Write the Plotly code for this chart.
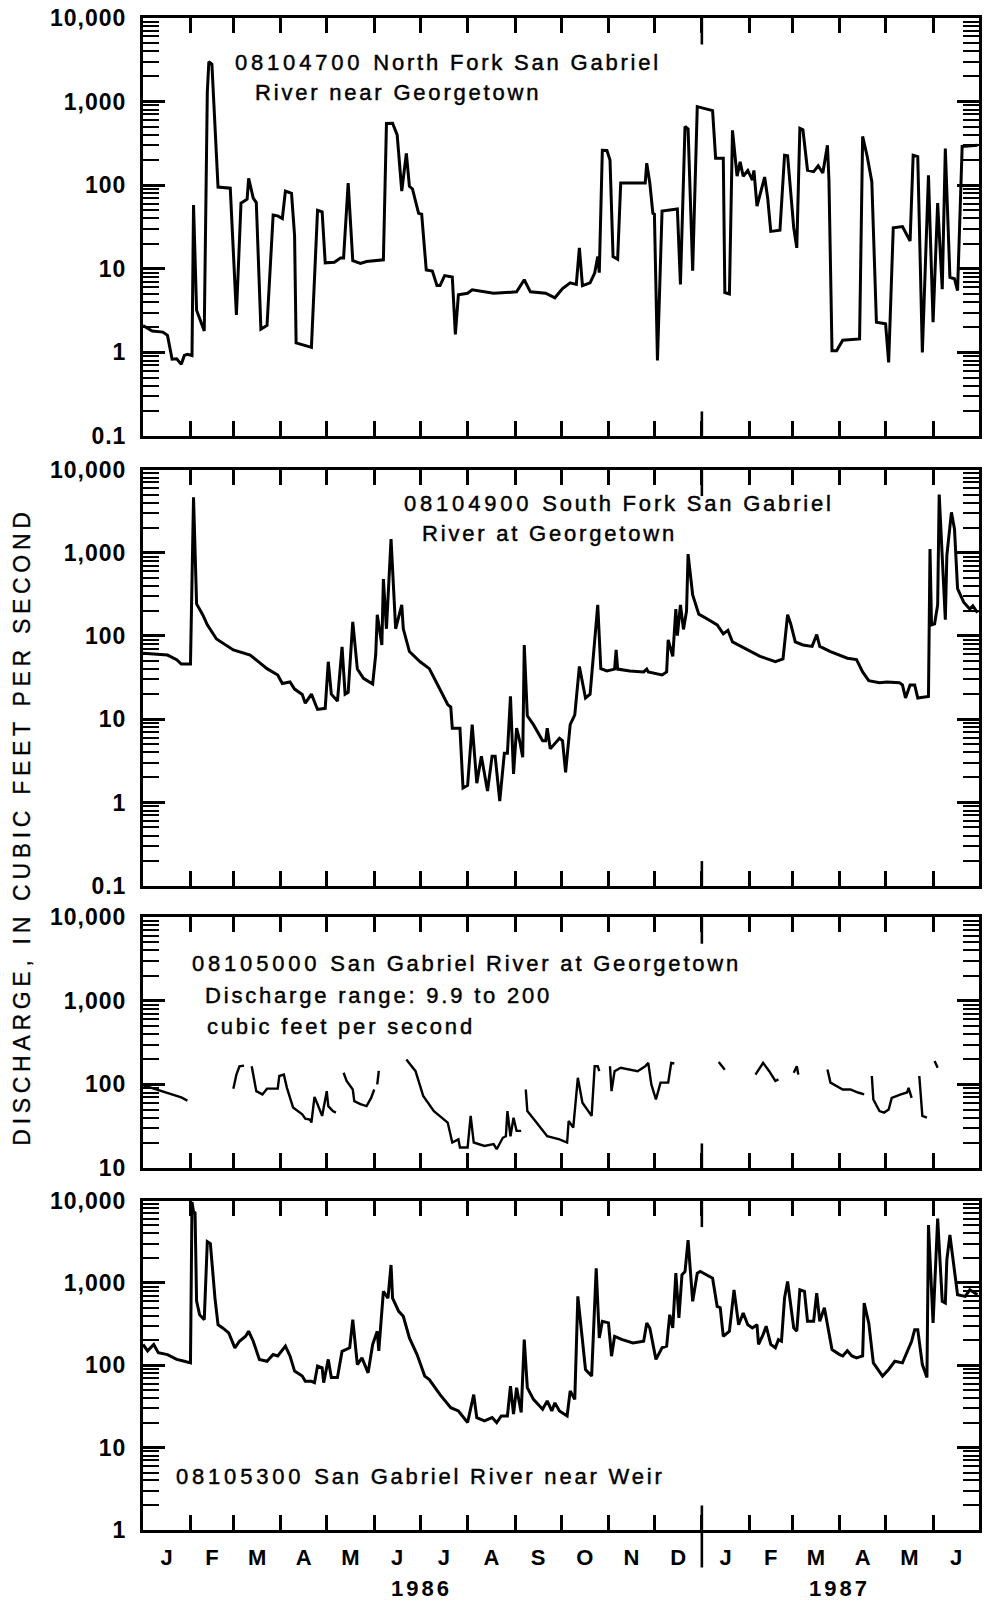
import math
import pandas as pd
import plotly.graph_objects as go

# Daily discharge, ft3/s, keyed by day offset from 1 January 1986.
# 08104700 North Fork San Gabriel River near Georgetown
north_fork_day = [0, 6, 13, 16, 19, 22, 25, 27, 29, 32, 33, 35, 40, 42, 43, 45, 49, 57, 61, 64,
                  68, 69, 72, 74, 77, 81, 85, 88, 91, 93, 97, 99, 100, 110, 114, 117, 119, 125, 129, 131,
                  134, 137, 142, 146, 157, 159, 163, 166, 169, 172, 174, 176, 180, 182, 185, 189, 192, 194, 197, 202,
                  204, 206, 212, 215, 229, 244, 249, 253, 263, 269, 274, 279, 283, 285, 287, 292, 295, 297, 298, 300,
                  303, 305, 307, 310, 312, 328, 329, 331, 333, 334, 336, 339, 349, 351, 354, 356, 359, 362, 372, 374,
                  379, 380, 383, 385, 388, 390, 392, 395, 398, 399, 401, 403, 406, 408, 410, 416, 419, 421, 425, 427,
                  429, 431, 434, 438, 441, 444, 447, 448, 450, 453, 457, 468, 470, 473, 476, 479, 485, 487, 490, 496,
                  501, 503, 506, 509, 513, 516, 519, 522, 524, 527, 530, 532, 535, 545]
north_fork_cfs = [2.1, 1.8, 1.75, 1.6, 0.83, 0.84, 0.72, 0.92, 0.95, 0.92, 58, 3.2, 1.8, 1300, 2990, 2800, 95, 92, 2.8, 61,
                  68, 121, 70, 62, 1.9, 2.1, 44, 43, 40, 85, 80, 25, 1.3, 1.15, 50, 48, 11.8, 12, 13.5, 13.5,
                  106, 12.5, 11.6, 12.2, 12.8, 547, 550, 400, 85, 240, 97, 90, 46, 45, 9.7, 9.4, 6.3, 6.3, 8.3, 8,
                  1.64, 4.9, 5.1, 5.6, 5.1, 5.3, 7.4, 5.3, 5.1, 4.5, 5.8, 6.8, 6.5, 17.8, 6.3, 6.8, 8.9, 14, 9, 261,
                  260, 200, 14, 13, 106, 106, 183, 106, 46, 45, 0.8, 49, 52, 6.5, 504, 470, 9.5, 870, 780, 210,
                  210, 5.2, 5, 452, 128, 190, 128, 150, 115, 150, 56, 78, 125, 70, 28, 29, 228, 225, 31, 17.8,
                  478, 460, 151, 145, 170, 140, 300, 115, 1.05, 1.05, 1.4, 1.45, 383, 220, 110, 2.3, 2.2, 0.76, 31, 32,
                  21.5, 228, 220, 1, 131, 2.3, 61, 5.7, 275, 7.9, 7.6, 5.5, 290, 300]

# 08104900 South Fork San Gabriel River at Georgetown
south_fork_day = [0, 16, 22, 25, 31, 33, 35, 39, 42, 48, 59, 70, 81, 88, 91, 96, 99, 104, 106, 110,
                  114, 119, 121, 123, 127, 130, 132, 134, 137, 140, 144, 150, 152, 153, 156, 157, 159, 162, 165, 169,
                  170, 174, 181, 187, 193, 199, 201, 202, 207, 209, 212, 215, 218, 221, 225, 228, 230, 233, 236, 238,
                  240, 242, 244, 246, 248, 249, 251, 255, 261, 263, 264, 266, 272, 274, 276, 279, 282, 285, 289, 292,
                  297, 299, 303, 308, 309, 310, 318, 327, 329, 330, 339, 342, 343, 346, 348, 349, 351, 353, 355, 356,
                  359, 363, 368, 375, 379, 382, 385, 395, 403, 413, 418, 421, 423, 426, 431, 437, 440, 442, 449, 460,
                  466, 470, 474, 481, 486, 494, 496, 498, 501, 504, 506, 513, 514, 515, 517, 519, 520, 524, 525, 528,
                  530, 532, 536, 540, 542, 545]
south_fork_cfs = [62, 59, 52, 46, 46, 4630, 243, 180, 136, 92, 68, 59, 40.5, 34, 26.8, 28, 23, 19.8, 15.6, 20,
                  13.1, 13.5, 49, 20, 16.5, 74, 20, 21, 148, 40, 31, 26.5, 60, 180, 78, 483, 122, 1455, 122, 236,
                  122, 65, 49, 40.5, 24.7, 15, 14, 7.8, 7.8, 1.49, 1.6, 8.6, 1.7, 3.6, 1.37, 3.6, 3.6, 1.04, 3.9, 3.9,
                  18.8, 2.2, 7.8, 5.5, 3.5, 78, 11, 8.6, 5.5, 5.5, 7.8, 4.4, 5.9, 5.5, 2.3, 8.6, 11.3, 43, 18, 20,
                  236, 40.5, 38, 40, 68, 40, 38, 37, 40, 37, 34, 37, 90, 57, 211, 101, 236, 120, 200, 962,
                  311, 183, 162, 136, 106, 117, 85, 68, 57, 49, 53, 180, 141, 85, 78, 75, 104, 75, 65, 54,
                  52, 37, 29, 27.5, 28, 27.5, 25.8, 18, 25.8, 25.8, 18, 18.8, 1105, 136, 140, 236, 5000, 157, 930, 3060,
                  1920, 370, 255, 211, 230, 190]

# 08105000 San Gabriel River at Georgetown (None = no record for that day)
georgetown_day = [0, 11, 20, 25, 29, 30,
                  59, 61, 63, 66, 68,
                  71, 74, 78, 81, 88, 89, 92, 94, 98, 104, 106, 109, 110, 112, 114, 117, 120, 121, 124, 126, 128,
                  131, 133, 137, 138, 142, 146, 149, 151, 152,
                  153, 154, 155,
                  172, 178, 183, 190, 199, 201, 202, 206, 207, 212, 214, 216, 223, 229, 231, 235, 237, 238, 240, 242,
                  244, 247, 248,
                  250, 251, 257, 264, 272, 277, 278, 281, 284, 287, 293, 295, 297, 298, 300,
                  305, 306, 308, 312, 323, 328, 330, 332, 335, 338, 343, 345, 347, 348,
                  376, 378, 380, 381,
                  400, 405, 409, 413, 415, 416,
                  425, 427, 428, 429,
                  447, 449, 457, 462, 467, 471, 472,
                  476, 477, 481, 484, 487, 489, 495, 499, 500, 502, 503,
                  507, 508, 509, 512, 513,
                  517, 519]
georgetown_cfs = [98, 85, 75, 70, 64, None,
                  89, 131, 165, 168, None,
                  165, 83, 76, 89, 89, 126, 131, 91, 53, 44, 39, 38, 35, 71, 58, 42, 83, 55, 48, 46, None,
                  138, 110, 87, 63, 58, 55, 69, 87, None,
                  100, 145, None,
                  199, 144, 73, 48, 35, 25.4, 20.2, 22, 17.6, 17.6, 42, 20.2, 18.4, 19.3, 16.8, 23, 24, 48, 24, 40,
                  27.8, 27.8, None,
                  87, 48, 35, 24, 22, 20.2, 36.5, 30.5, 120, 60.5, 42, 165, 165, 144, None,
                  165, 83, 144, 158, 144, 165, 181, 100, 66, 105, 105, 181, 178, None,
                  185, 165, 150, None,
                  131, 181, 144, 110, 115, None,
                  138, 165, 131, None,
                  151, 105, 87, 87, 80, 76, None,
                  126, 66, 48, 46, 50, 69, 76, 80, 91, 69, None,
                  126, 66, 42, 40, None,
                  190, 158]

# 08105300 San Gabriel River near Weir
weir_day = [0, 3, 7, 10, 16, 22, 27, 31, 32, 33, 34, 35, 37, 40, 42, 44, 47, 49, 52, 56,
            60, 63, 67, 69, 72, 76, 81, 85, 88, 93, 96, 99, 104, 106, 110, 112, 114, 117, 118, 121,
            123, 127, 130, 133, 135, 137, 140, 143, 147, 150, 153, 154, 157, 160, 162, 163, 167, 170, 174, 179,
            184, 187, 194, 201, 206, 212, 216, 218, 223, 228, 231, 234, 238, 240, 242, 244, 247, 249, 251, 255,
            261, 264, 267, 269, 272, 277, 279, 282, 284, 289, 293, 296, 298, 300, 304, 306, 308, 313, 320, 327,
            329, 331, 335, 339, 342, 344, 346, 348, 350, 352, 354, 356, 359, 362, 364, 372, 375, 377, 379, 383,
            386, 389, 392, 395, 398, 401, 402, 405, 407, 410, 413, 415, 417, 419, 421, 425, 427, 429, 432, 434,
            438, 440, 442, 445, 447, 450, 455, 457, 460, 463, 466, 470, 471, 474, 477, 480, 483, 487, 491, 496,
            500, 502, 504, 506, 509, 512, 513, 516, 519, 522, 524, 525, 527, 529, 532, 537, 540, 545]
weir_cfs = [179, 150, 179, 142, 135, 118, 112, 107, 9600, 7300, 7100, 600, 411, 358, 3160, 3000, 655, 311, 284, 247,
            163, 196, 225, 259, 196, 118, 112, 135, 130, 171, 130, 85, 74, 64, 64, 61.5, 98, 93, 61.5, 118,
            71, 71, 148, 155, 163, 358, 102, 123, 81, 179, 259, 150, 789, 655, 1650, 655, 452, 393, 215, 135,
            74, 67, 44, 30.6, 27.9, 20.2, 44, 23.2, 21.2, 23.2, 20.2, 24.3, 24.3, 56, 25.5, 53.5, 26.7, 205, 53.5, 38.6,
            29.3, 36.9, 27.9, 35, 27.9, 24.3, 48.7, 38.6, 686, 89, 74, 1506, 215, 342, 327, 129, 225, 205, 187, 196,
            327, 284, 118, 163, 171, 411, 284, 1313, 375, 1253, 1374, 3310, 597, 1313, 1374, 1140, 519, 500, 225, 259,
            824, 311, 431, 311, 284, 311, 179, 236, 298, 179, 163, 205, 196, 655, 1040, 284, 259, 824, 789, 342,
            342, 751, 342, 500, 298, 155, 135, 130, 150, 130, 123, 130, 569, 327, 107, 89, 74, 89, 112, 107,
            163, 196, 271, 271, 102, 71, 5030, 327, 6050, 597, 569, 1900, 3810, 1995, 717, 686, 824, 717]

station_labels = [
    ["08104700 North Fork San Gabriel", "River near Georgetown"],
    ["08104900 South Fork San Gabriel", "River at Georgetown"],
    ["08105000 San Gabriel River at Georgetown", "Discharge range: 9.9 to 200", "cubic feet per second"],
    ["08105300 San Gabriel River near Weir"],
]
month_letters = ["J", "F", "M", "A", "M", "J", "J", "A", "S", "O", "N", "D",
                 "J", "F", "M", "A", "M", "J"]
year_labels = ["1986", "1987"]
decade_values = [0.1, 1, 10, 100, 1000, 10000]
decade_text = ["0.1", "1", "10", "100", "1,000", "10,000"]
y_title = "DISCHARGE, IN CUBIC FEET PER SECOND"

for d, q in [(north_fork_day, north_fork_cfs), (south_fork_day, south_fork_cfs),
             (georgetown_day, georgetown_cfs), (weir_day, weir_cfs)]:
    assert len(d) == len(q), (len(d), len(q))

# ---------------------------------------------------------------- layout
START = pd.Timestamp("1986-01-01")
END = pd.Timestamp("1987-07-01")
FIG_W, FIG_H = 988, 1610
X0, X1 = 143, 979
# (top px, bottom px, log10 range, line width, label positions [(x px, y px)])
PANELS = [
    (5, 430, [-1, 4], 3.0, [(233, 50), (253, 81)]),
    (464, 887, [-1, 4], 3.0, [(402, 499), (420, 529)]),
    (919, 1174, [1, 4], 2.4, [(190, 966), (203, 999), (205, 1030)]),
    (1207, 1542, [0, 4], 3.0, [(174, 1488)]),
]
YEAR_Y = 1601
Y_TITLE_Y = 827
FONT = "Liberation Sans, Arial, Helvetica, sans-serif"
INK = "stroke:black;stroke-width:0.45px"


def fx(px):
    return px / FIG_W


def fy(px):
    return 1 - px / FIG_H


def spaced(text, ls, style="", digit_ls=None):
    extra = ";" + style if style else ""
    if digit_ls is not None:
        head, _, tail = text.partition(" ")
        if head.isdigit():
            return (f'<span style="letter-spacing:{digit_ls}px{extra}">{head} </span>'
                    f'<span style="letter-spacing:{ls}px{extra}">{tail}</span>')
    return f'<span style="letter-spacing:{ls}px{extra}">{text}</span>'


def to_dates(days):
    return [START + pd.Timedelta(days=d) for d in days]


month_starts = pd.date_range("1986-02-01", "1987-06-01", freq="MS")
all_starts = pd.date_range("1986-01-01", "1987-07-01", freq="MS")
month_mids = [a + (b - a) / 2 for a, b in zip(all_starts[:-1], all_starts[1:])]
minor_log = [m * 10 ** k for k in range(-1, 4) for m in range(2, 10)]

fig = go.Figure()
series = [(north_fork_day, north_fork_cfs), (south_fork_day, south_fork_cfs),
          (georgetown_day, georgetown_cfs), (weir_day, weir_cfs)]

annotations = []
shapes = []
jan87 = pd.Timestamp("1987-01-01")
for i, ((days, cfs), (top, bot, yr, lw, lab_pos)) in enumerate(zip(series, PANELS), start=1):
    sfx = "" if i == 1 else str(i)
    fig.add_trace(go.Scatter(
        x=to_dates(days), y=cfs, mode="lines", connectgaps=False,
        line=dict(color="black", width=lw), xaxis="x" + sfx, yaxis="y" + sfx,
        showlegend=False, hoverinfo="skip"))

    last = i == len(PANELS)
    in_range = [k for k, v in enumerate(decade_values) if yr[0] <= round(math.log10(v)) <= yr[1]]
    fig.update_layout(**{
        "xaxis" + sfx: dict(
            domain=[fx(X0), fx(X1)], anchor="y" + sfx, type="date",
            range=[START, END], showgrid=False, zeroline=False,
            showline=True, linecolor="black", linewidth=3, mirror="ticks",
            ticks="", tickmode="array",
            tickvals=month_mids if last else [],
            ticktext=month_letters if last else [],
            showticklabels=last, ticklabelstandoff=6,
            tickfont=dict(family=FONT, size=22, color="black", weight="bold"),
            minor=dict(tickmode="array", tickvals=list(month_starts), ticks="inside",
                       ticklen=15, tickwidth=2.6, tickcolor="black", showgrid=False),
        ),
        "yaxis" + sfx: dict(
            domain=[fy(bot), fy(top)], anchor="x" + sfx, type="log", range=yr,
            showgrid=False, zeroline=False, showline=True, linecolor="black",
            linewidth=3, mirror="ticks", ticks="inside", ticklen=22, tickwidth=2.6,
            tickcolor="black", tickmode="array",
            tickvals=[decade_values[k] for k in in_range],
            ticktext=[spaced(decade_text[k], 1) for k in in_range],
            ticklabelstandoff=9,
            tickfont=dict(family=FONT, size=23, color="black", weight="bold"),
            minor=dict(tickmode="array",
                       tickvals=[v for v in minor_log if 10 ** yr[0] < v < 10 ** yr[1]],
                       ticks="inside", ticklen=16, tickwidth=2.4, tickcolor="black",
                       showgrid=False),
        ),
    })

    for text, (lx, ly) in zip(station_labels[i - 1], lab_pos):
        annotations.append(dict(
            text=spaced(text, 2.8, INK, digit_ls=3.8), xref="paper", yref="paper",
            x=fx(lx), y=fy(ly), xanchor="left", yanchor="middle", showarrow=False,
            font=dict(family=FONT, size=22, color="black")))

    # longer tick marking the change of year
    shapes.append(dict(type="line", xref="x" + sfx, yref="paper", x0=jan87, x1=jan87,
                       y0=fy(top), y1=fy(top + 27), line=dict(color="black", width=2.6)))
    shapes.append(dict(type="line", xref="x" + sfx, yref="paper", x0=jan87, x1=jan87,
                       y0=fy(bot + (38 if last else 0)), y1=fy(bot - 25),
                       line=dict(color="black", width=2.6)))

# year labels under the month letters
for text, when in zip(year_labels, [pd.Timestamp("1986-07-02"), pd.Timestamp("1987-04-01")]):
    annotations.append(dict(
        text=spaced(text, 3), xref="x4", yref="paper", x=when, y=fy(YEAR_Y),
        xanchor="center", yanchor="middle", showarrow=False,
        font=dict(family=FONT, size=22, color="black", weight="bold")))

annotations.append(dict(
    text=spaced(y_title, 4.7, "stroke:black;stroke-width:0.3px"), xref="paper", yref="paper",
    x=fx(22), y=fy(Y_TITLE_Y), xanchor="center", yanchor="middle", textangle=-90,
    showarrow=False, font=dict(family=FONT, size=23, color="black")))

fig.update_layout(
    width=FIG_W, height=FIG_H, autosize=False,
    margin=dict(l=0, r=0, t=0, b=0),
    paper_bgcolor="white", plot_bgcolor="white",
    annotations=annotations, shapes=shapes, showlegend=False,
)

fig.write_html("out.html")
